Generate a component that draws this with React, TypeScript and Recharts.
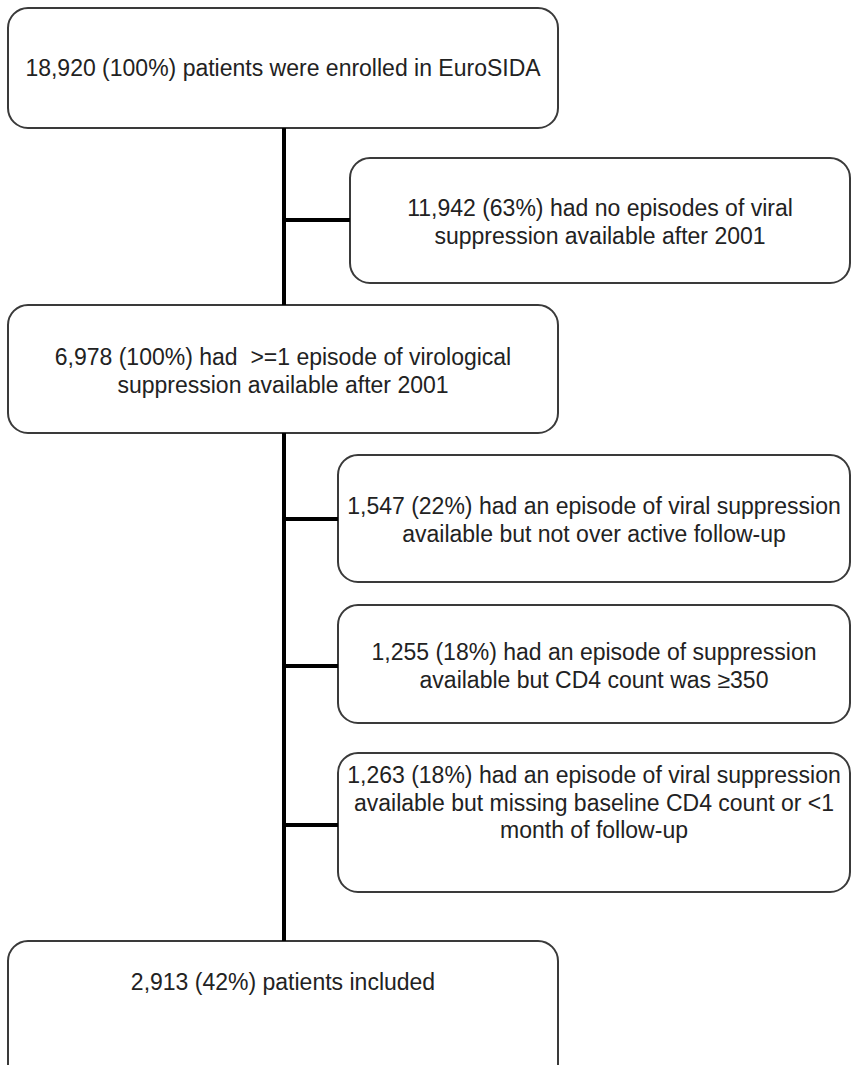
import { ScatterChart, Scatter, XAxis, YAxis, ReferenceArea, ReferenceLine } from 'recharts';

// flow stages, top to bottom
const boxTexts: string[][] = [
    ['18,920 (100%) patients were enrolled in EuroSIDA'],
    ['11,942 (63%) had no episodes of viral', 'suppression available after 2001'],
    ['6,978 (100%) had  >=1 episode of virological', 'suppression available after 2001'],
    ['1,547 (22%) had an episode of viral suppression', 'available but not over active follow-up'],
    ['1,255 (18%) had an episode of suppression', 'available but CD4 count was \u2265350'],
    ['1,263 (18%) had an episode of viral suppression', 'available but missing baseline CD4 count or <1', 'month of follow-up'],
    ['2,913 (42%) patients included'],
];

// box geometry in chart units (1 unit = 1px)
const boxLayout = [
    { x1: 8, x2: 558, y1: 8, y2: 128, textY: 68 },
    { x1: 350, x2: 850, y1: 158, y2: 283, textY: 208 },
    { x1: 8, x2: 558, y1: 305, y2: 433, textY: 357 },
    { x1: 338, x2: 850, y1: 455, y2: 582, textY: 506 },
    { x1: 338, x2: 850, y1: 605, y2: 723, textY: 652 },
    { x1: 338, x2: 850, y1: 753, y2: 892, textY: 775 },
    { x1: 8, x2: 558, y1: 941, y2: 1085, textY: 982 },
];

const spineX = 284;
const spine = [
    [128, 305],
    [433, 941],
];
// side branches: y and the box they reach
const branches = [
    { y: 220, box: 1 },
    { y: 519, box: 3 },
    { y: 666, box: 4 },
    { y: 825, box: 5 },
];

const LINE_GAP = 27.5;

const textPoints = boxTexts.flatMap((lines, i) =>
    lines.map((t, j) => ({
        x: (boxLayout[i].x1 + boxLayout[i].x2) / 2,
        y: boxLayout[i].textY + j * LINE_GAP,
        text: t,
    }))
);

const RoundBox = (p: any) => (
    <rect x={p.x} y={p.y} width={p.width} height={p.height} rx={20} ry={20}
        fill="#fff" stroke="#3a3a3a" strokeWidth={2} />
);

const TextLine = (p: any) => (
    <text x={p.cx} y={p.cy} dy="0.35em" textAnchor="middle" style={{ whiteSpace: 'pre' }}
        fontFamily="'Liberation Sans', Arial, sans-serif" fontSize={23} fill="#222">
        {p.payload.text}
    </text>
);

export default function App() {
    return (
        <div style={{ position: 'absolute', left: 0, top: 0, width: 852, height: 1065, background: '#fff' }}>
            <ScatterChart width={852} height={1065} margin={{ top: 0, right: 0, bottom: 0, left: 0 }}>
                <XAxis type="number" dataKey="x" domain={[0, 852]} hide />
                <YAxis type="number" dataKey="y" domain={[0, 1065]} reversed hide width={0} />
                {spine.map(([a, b], i) => (
                    <ReferenceLine key={`s${i}`} segment={[{ x: spineX, y: a }, { x: spineX, y: b }]}
                        stroke="#000" strokeWidth={4} />
                ))}
                {branches.map((br, i) => (
                    <ReferenceLine key={`b${i}`} segment={[{ x: spineX, y: br.y }, { x: boxLayout[br.box].x1, y: br.y }]}
                        stroke="#000" strokeWidth={4} />
                ))}
                {boxLayout.map((b, i) => (
                    <ReferenceArea key={`r${i}`} x1={b.x1} x2={b.x2} y1={b.y1} y2={b.y2}
                        ifOverflow="visible" shape={RoundBox} />
                ))}
                <Scatter data={textPoints} shape={TextLine} isAnimationActive={false} />
            </ScatterChart>
        </div>
    );
}
